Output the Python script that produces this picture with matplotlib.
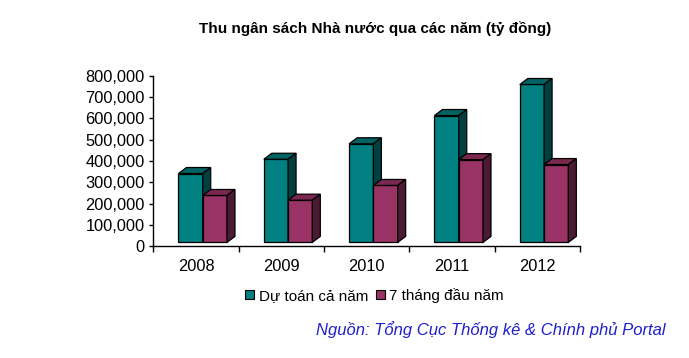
import matplotlib
matplotlib.use("Agg")
import matplotlib.pyplot as plt
from matplotlib.patches import Polygon, Patch
from matplotlib.ticker import FuncFormatter, FixedLocator

plt.rcParams['font.family'] = ['Liberation Sans', 'DejaVu Sans']

# ---- data ----
years = ["2008", "2009", "2010", "2011", "2012"]
du_toan = [323000, 389900, 462500, 595000, 740500]      # Dự toán cả năm
bay_thang = [220000, 198000, 267000, 388000, 365000]    # 7 tháng đầu năm
series_names = ["Dự toán cả năm", "7 tháng đầu năm"]
title = "Thu ngân sách Nhà nước qua các năm (tỷ đồng)"
source = "Nguồn: Tổng Cục Thống kê & Chính phủ Portal"

# ---- style ----
W, H, DPI = 689, 358, 100
front_cols = ["#008080", "#993366"]
top_cols = ["#006262", "#7a2850"]
side_cols = ["#004040", "#4d1a33"]

fig = plt.figure(figsize=(W / DPI, H / DPI), dpi=DPI)
ax_left, ax_right, ax_top, ax_bot = 153.3, 580.0, 75.7, 246.3
ax = fig.add_axes([ax_left / W, 1 - ax_bot / H, (ax_right - ax_left) / W, (ax_bot - ax_top) / H])
ax.set_xlim(-0.5, len(years) - 0.5)
ax.set_ylim(0, 800000)

# pixel -> data conversions
ppx = (ax_right - ax_left) / (len(years))          # px per category unit
ppy = (ax_bot - ax_top) / 800000.0                 # px per value unit
shift_x = 6.75 / ppx      # front-face offset (3D look)
shift_y = 3.9 / ppy
depth_x = 8.0 / ppx
depth_y = 6.0 / ppy
bw = 24.25 / ppx

z = 3
for i in range(len(years)):
    for s, vals in enumerate([du_toan, bay_thang]):
        v = vals[i]
        x0 = i + shift_x + (s - 1) * bw
        x1 = x0 + bw
        y0 = shift_y
        y1 = shift_y + v
        ax.bar(x0, v, width=bw, bottom=y0, align='edge', color=front_cols[s],
               edgecolor='black', linewidth=0.9, zorder=z, clip_on=False)
        top = Polygon([(x0, y1), (x1, y1), (x1 + depth_x, y1 + depth_y), (x0 + depth_x, y1 + depth_y)],
                      closed=True, facecolor=top_cols[s], edgecolor='black', linewidth=0.9,
                      zorder=z, clip_on=False)
        side = Polygon([(x1, y0), (x1 + depth_x, y0 + depth_y), (x1 + depth_x, y1 + depth_y), (x1, y1)],
                       closed=True, facecolor=side_cols[s], edgecolor='black', linewidth=0.9,
                       zorder=z, clip_on=False)
        ax.add_patch(top)
        ax.add_patch(side)
        z += 1

# axes styling
for sp in ['top', 'right']:
    ax.spines[sp].set_visible(False)
ax.spines['left'].set_linewidth(1.0)
ax.spines['bottom'].set_linewidth(1.0)

ax.yaxis.set_major_locator(FixedLocator(range(0, 800001, 100000)))
ax.yaxis.set_major_formatter(FuncFormatter(lambda v, p: f"{int(v):,}"))
ax.tick_params(axis='y', direction='out', length=3, width=1, pad=3, labelsize=11.8)

ax.set_xticks(range(len(years)))
ax.set_xticklabels(years)
ax.set_xticks([k - 0.5 for k in range(len(years) + 1)], minor=True)
ax.tick_params(axis='x', which='major', length=0, pad=9, labelsize=11.8)
ax.tick_params(axis='x', which='minor', direction='out', length=4, width=1)

fig.text(374.7 / W, 1 - 29 / H, title, ha='center', va='center', fontsize=11, fontweight='bold')

handles = [Patch(facecolor=front_cols[0], edgecolor='black', linewidth=0.8),
           Patch(facecolor=front_cols[1], edgecolor='black', linewidth=0.8)]
fig.legend(handles, series_names, loc='center', bbox_to_anchor=(374.5 / W, 1 - 295.5 / H),
           ncol=2, frameon=False, fontsize=11, handlelength=0.6, handleheight=0.6,
           handletextpad=0.3, columnspacing=0.5, borderpad=0)

fig.text(666 / W, 1 - 330 / H, source, ha='right', va='center', fontsize=12,
         style='italic', color='#1f1fcc')

fig.savefig("out.png", dpi=DPI)
